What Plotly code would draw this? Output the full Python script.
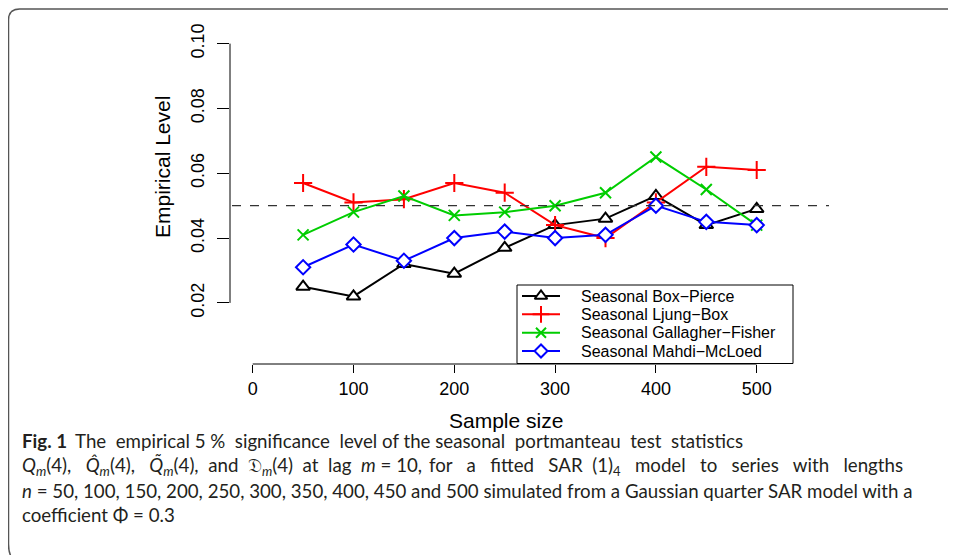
import plotly.graph_objects as go

sample_size = [50, 100, 150, 200, 250, 300, 350, 400, 450, 500]
box_pierce = [0.025, 0.022, 0.032, 0.029, 0.037, 0.044, 0.046, 0.053, 0.044, 0.049]
ljung_box = [0.057, 0.051, 0.052, 0.057, 0.054, 0.044, 0.040, 0.051, 0.062, 0.061]
gallagher_fisher = [0.041, 0.048, 0.053, 0.047, 0.048, 0.050, 0.054, 0.065, 0.055, 0.044]
mahdi_mcleod = [0.031, 0.038, 0.033, 0.040, 0.042, 0.040, 0.041, 0.050, 0.045, 0.044]
series_names = ["Seasonal Box−Pierce", "Seasonal Ljung−Box",
                "Seasonal Gallagher−Fisher", "Seasonal Mahdi−McLoed"]
x_ticks = [0, 100, 200, 300, 400, 500]
y_ticks = [0.02, 0.04, 0.06, 0.08, 0.10]
y_tick_labels = ["0.02", "0.04", "0.06", "0.08", "0.10"]
nominal_level = 0.05

# page has an 8px body margin: lay out in reference pixels, shift by OFF
OFF = 8
W, H = 956, 555
L, R, T, B = 230, 829, 34, 364


def px(x):
    return (x - L) / (R - L)


def py(y):
    return (B - y) / (B - T)


AX_FONT = "Liberation Sans, Arial, Helvetica, sans-serif"
CAP_FONT = "Lato, Open Sans, sans-serif"
NB = "\u00a0"

fig = go.Figure()
styles = [
    ("black", "triangle-up", 12),
    ("#FF0000", "cross-thin", 13),
    ("#00CD00", "x-thin", 11),
    ("#0000FF", "diamond", 11),
]


def marker_for(col, sym, size):
    thin = sym.endswith("thin")
    return dict(symbol=sym, size=size, color=col if thin else "white",
                line=dict(color=col, width=2))


for vals, name, (col, sym, sz) in zip([box_pierce, ljung_box, gallagher_fisher, mahdi_mcleod],
                                      series_names, styles):
    fig.add_trace(go.Scatter(
        x=sample_size, y=vals, name=name, mode="lines+markers",
        line=dict(color=col, width=2), marker=marker_for(col, sym, sz),
        showlegend=False,
    ))

# axis lines spanning tick range (R style)
fig.add_shape(type="line", xref="x", yref="paper", x0=x_ticks[0], x1=x_ticks[-1],
              y0=0, y1=0, line=dict(color="black", width=1))
fig.add_shape(type="line", xref="paper", yref="y", x0=0, x1=0,
              y0=y_ticks[0], y1=y_ticks[-1], line=dict(color="black", width=1))
# nominal level
fig.add_shape(type="line", xref="paper", yref="y", x0=px(232), x1=1,
              y0=nominal_level, y1=nominal_level,
              line=dict(color="#333333", width=1.2, dash="dash"))

# legend box (R-style legend drawn on a pixel overlay)
LG_L, LG_R, LG_T, LG_B = 517, 793, 285, 363.5
fig.add_shape(type="rect", xref="paper", yref="paper",
              x0=px(LG_L), x1=px(LG_R), y0=py(LG_T), y1=py(LG_B),
              line=dict(color="black", width=1), fillcolor="white", layer="below")
row_y = [296, 314.3, 332.7, 351]
ann = []
for ry, name, (col, sym, sz) in zip(row_y, series_names, styles):
    fig.add_trace(go.Scatter(x=[522, 560], y=[ry, ry], mode="lines",
                             line=dict(color=col, width=2), xaxis="x2", yaxis="y2",
                             showlegend=False, hoverinfo="skip"))
    fig.add_trace(go.Scatter(x=[541], y=[ry], mode="markers",
                             marker=marker_for(col, sym, sz - 1), xaxis="x2", yaxis="y2",
                             showlegend=False, hoverinfo="skip"))
    ann.append(dict(text=name, x=px(579), y=py(ry), xref="paper", yref="paper",
                    showarrow=False, font=dict(family=AX_FONT, size=16, color="black"),
                    xanchor="left", yanchor="middle"))

# rounded frame (open on the right / bottom like the cropped reference)
x0, y0 = px(8.5), py(9)
r_x, r_y = 11 / (R - L), 11 / (B - T)
path = (f"M {px(15)},{py(562)} Q {x0},{py(556)} {x0},{py(544)} "
        f"L {x0},{y0 - r_y} Q {x0},{y0} {x0 + r_x},{y0} L {px(W + 2)},{y0}")
fig.add_shape(type="path", xref="paper", yref="paper", path=path,
              line=dict(color="#555555", width=1.5), layer="above")

ann.append(dict(text="Sample size", x=px(506), y=py(420), xref="paper", yref="paper",
                showarrow=False, font=dict(family=AX_FONT, size=21, color="black"),
                xanchor="center", yanchor="middle"))
ann.append(dict(text="Empirical Level", x=px(162), y=py(167), xref="paper", yref="paper",
                showarrow=False, textangle=-90,
                font=dict(family=AX_FONT, size=21, color="black"),
                xanchor="center", yanchor="middle"))


def spaced(s, extra):
    return s.replace(" ", " " + NB * extra)


CAP_SIZE = 18.7
CAP_COL = "#231f20"
line1 = ("The" + " " + NB + "empirical 5 %" + " " + NB + "significance"
         + " " + NB + "level of the seasonal" + " " + NB + "portmanteau"
         + " " + NB + "test" + " " + NB + "statistics")
# (text, anchor x, xanchor, y)
cap_parts = [
    ("<b>Fig. 1</b>", 20, "left", 441),
    (line1, 745, "right", 441),
    ("<i>Q<sub>m</sub></i>(4)," + NB * 3 + "<i>Q̂<sub>m</sub></i>(4)," + NB * 3
     + "<i>Q̃<sub>m</sub></i>(4)," + NB * 2 + "and" + NB * 2
     + "𝔇<i><sub>m</sub></i>(4)" + NB * 2 + "at" + NB * 2 + "lag" + NB * 2
     + "<i>m</i>" + NB + "=" + NB + "10,", 20, "left", 466),
    (spaced("for a fitted SAR", 2) + NB * 2 + "(1)<sub>4</sub>" + NB * 3
     + spaced("model to series with lengths", 2), 905, "right", 466),
    ("<i>n</i> = 50, 100, 150, 200, 250, 300, 350, 400, 450 and 500 simulated from a "
     "Gaussian quarter SAR model with a", 20, "left", 491),
    ("coefficient Φ = 0.3", 20, "left", 515),
]
for t, xx, xa, yy in cap_parts:
    ann.append(dict(text=t, x=px(xx), y=py(yy), xref="paper", yref="paper",
                    showarrow=False, font=dict(family=CAP_FONT, size=CAP_SIZE, color=CAP_COL),
                    xanchor=xa, yanchor="middle", align="left"))

fig.update_layout(
    width=W - OFF, height=H - OFF,
    margin=dict(l=L - OFF, r=W - R, t=T - OFF, b=H - B, pad=0),
    paper_bgcolor="white", plot_bgcolor="white",
    showlegend=False,
    annotations=ann,
    xaxis=dict(range=[(L - 252.7) / 1.008, (R - 252.7) / 1.008], tickvals=x_ticks,
               ticks="outside", ticklen=8, tickcolor="black", showline=False,
               showgrid=False, zeroline=False,
               tickfont=dict(family=AX_FONT, size=18, color="black")),
    yaxis=dict(range=[0.02 - (B - 302.9) / 3241, 0.02 + (302.9 - T) / 3241],
               tickvals=y_ticks, ticktext=y_tick_labels,
               ticks="outside", ticklen=12, tickcolor="black", showline=False,
               showgrid=False, zeroline=False, tickangle=-90, ticklabelstandoff=6,
               tickfont=dict(family=AX_FONT, size=18, color="black")),
    xaxis2=dict(overlaying="x", anchor="y2", range=[L, R], visible=False, fixedrange=True),
    yaxis2=dict(overlaying="y", anchor="x2", range=[B, T], visible=False, fixedrange=True),
)

fig.write_html("out.html")
